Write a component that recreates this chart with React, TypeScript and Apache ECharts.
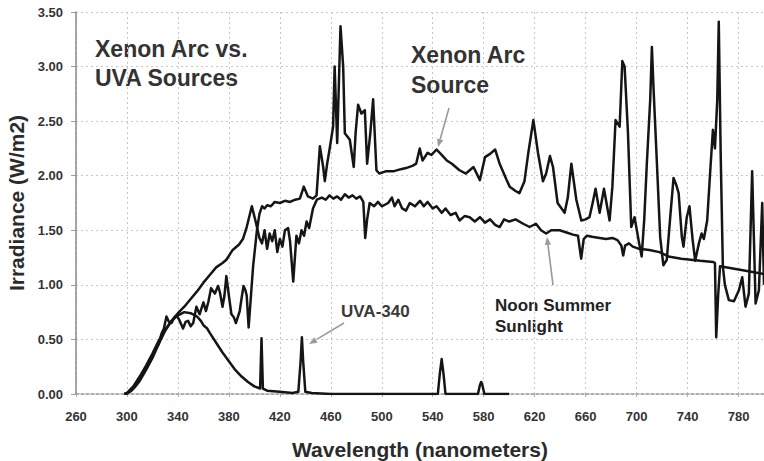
import React, { useEffect, useRef } from "react";
import * as echarts from "echarts";

// ---- Data (wavelength nm, irradiance W/m2) ----
const xenonArc: [number, number][] = [
  [298, 0], [300, 0.005], [303, 0.03], [306, 0.07], [310, 0.14], [314, 0.22], [318, 0.3], [320, 0.34],
  [322, 0.4], [325, 0.46], [327, 0.55], [329, 0.6], [331, 0.71], [333, 0.66], [335, 0.65], [337, 0.7],
  [339, 0.72], [341, 0.68], [344, 0.6], [346, 0.66], [348, 0.67], [350, 0.62], [352, 0.65], [354.5, 0.8],
  [357, 0.73], [360, 0.84], [362, 0.76], [364, 0.85], [366, 0.97], [369, 0.92], [371.5, 0.99], [373, 0.93],
  [375, 0.8], [376.5, 0.9], [378, 1.08], [380, 0.9], [382, 0.73], [384, 0.7], [385.5, 0.65], [388.5, 0.76],
  [390, 0.88], [391.5, 0.99], [393, 0.95], [394, 0.9], [395.5, 0.61], [397, 0.85], [399, 1.17], [402, 1.5],
  [404, 1.65], [406, 1.72], [408, 1.7], [410, 1.73], [413, 1.72], [416, 1.76], [420, 1.75], [424, 1.77],
  [428, 1.76], [432, 1.78], [435.7, 1.79], [438.8, 1.9], [442, 1.81], [446, 1.79], [448.8, 1.82],
  [451.4, 2.27], [454, 2.08], [455.3, 1.95], [457, 2.1], [459, 2.24], [461.8, 2.45], [463, 3.0], [465, 2.3],
  [467.6, 3.37], [469.7, 3.0], [471, 2.39], [473, 2.36], [474.9, 2.33], [478, 2.08], [479.5, 2.4],
  [481.4, 2.65], [484, 2.57], [486.7, 2.6], [488.5, 2.11], [491, 2.39], [493.2, 2.7], [495.8, 2.05],
  [498, 2.02], [503, 2.04], [509, 2.04], [515, 2.06], [519, 2.07], [524, 2.09], [527, 2.11], [529.8, 2.25],
  [532, 2.14], [536, 2.21], [539, 2.19], [543, 2.24], [547, 2.19], [551, 2.14], [555, 2.11], [561, 2.05],
  [566, 2.02], [572, 2.08], [577, 1.96], [581, 2.17], [585, 2.2], [589, 2.24], [592.5, 2.11], [598, 1.96],
  [600.4, 1.9], [605, 1.86], [608, 1.84], [612, 1.95], [615, 2.21], [619, 2.51], [622.6, 2.21],
  [626.5, 1.95], [629, 2.02], [632, 2.18], [634.4, 2.08], [638, 1.75], [643.5, 1.66], [646, 1.8],
  [648.8, 2.11], [652.7, 1.78], [656.6, 1.59], [660, 1.6], [663, 1.62], [665.5, 1.75], [667.8, 1.88],
  [671, 1.66], [674.4, 1.88], [678.8, 1.59], [681, 1.9], [683.5, 2.51], [686.7, 2.45], [688.8, 3.05],
  [690.6, 3.0], [693.2, 2.4], [695.8, 1.53], [698.4, 1.62], [702, 1.38], [704, 1.26], [706, 1.6], [708, 2.1],
  [710.7, 2.7], [712, 3.18], [713.3, 2.8], [716, 2.1], [718.5, 1.44], [721, 1.18], [723.7, 1.23],
  [726.4, 1.62], [729, 1.98], [731, 1.92], [733, 1.84], [735.5, 1.44], [736.8, 1.35], [739.4, 1.62],
  [741.5, 1.72], [744, 1.41], [746, 1.22], [748.9, 1.38], [751, 1.47], [752.8, 1.42], [755.4, 1.59],
  [758, 2.08], [759.9, 2.42], [761.5, 2.25], [763.3, 2.69], [764.5, 3.41], [766, 2.2], [767.7, 1.17],
  [769.3, 1.0], [772.4, 0.86], [776.4, 0.85], [780.3, 0.95], [782.9, 1.07], [785.5, 0.8], [788.1, 0.92],
  [790.7, 2.04], [793.4, 0.83], [796, 0.95], [798.6, 1.75], [800, 1.0],
];

const noonSunlight: [number, number][] = [
  [298, 0], [300, 0.005], [303, 0.025], [306, 0.06], [310, 0.12], [315, 0.22], [320, 0.33], [325, 0.46],
  [330, 0.58], [335, 0.67], [340, 0.74], [345, 0.8], [350, 0.87], [355, 0.94], [360, 1.02], [365, 1.09],
  [370, 1.16], [375, 1.2], [378, 1.23], [383, 1.32], [388, 1.37], [391, 1.42], [394, 1.53], [398, 1.72],
  [401, 1.58], [404, 1.43], [406, 1.38], [408, 1.5], [410, 1.33], [412, 1.47], [414, 1.4], [416, 1.5],
  [418, 1.3], [420, 1.42], [422, 1.35], [424, 1.5], [426.5, 1.52], [428, 1.4], [430.5, 1.03], [433, 1.45],
  [435, 1.38], [437, 1.5], [439, 1.45], [441, 1.58], [443, 1.52], [446, 1.7], [449, 1.78], [453, 1.8],
  [456, 1.78], [459, 1.82], [462, 1.79], [465, 1.81], [468, 1.78], [471, 1.83], [474, 1.8], [477, 1.82],
  [480, 1.79], [483, 1.81], [485.5, 1.76], [487, 1.43], [488.5, 1.6], [490.5, 1.75], [494, 1.72],
  [497, 1.76], [500, 1.72], [505, 1.75], [508, 1.8], [510, 1.72], [513, 1.78], [516, 1.7], [519, 1.68],
  [522, 1.75], [526, 1.72], [530, 1.77], [533, 1.72], [536, 1.76], [540, 1.7], [543, 1.72], [547, 1.66],
  [550, 1.7], [554, 1.64], [558, 1.66], [561, 1.59], [565, 1.63], [569, 1.62], [573, 1.58], [577, 1.62],
  [581, 1.57], [585, 1.6], [589, 1.55], [592.5, 1.53], [596, 1.6], [600, 1.58], [605, 1.6], [611, 1.56],
  [616, 1.53], [621, 1.56], [625, 1.5], [629, 1.47], [633, 1.5], [639.6, 1.5], [645, 1.48], [650, 1.46],
  [654, 1.45], [656.5, 1.24], [658.5, 1.42], [661, 1.45], [665, 1.44], [671, 1.43], [676, 1.42],
  [681, 1.43], [685, 1.41], [688, 1.36], [689.5, 1.27], [691, 1.36], [694, 1.38], [697, 1.35], [702, 1.33],
  [710, 1.32], [718, 1.3], [725, 1.26], [735, 1.24], [750, 1.22], [760, 1.21], [761.5, 1.2], [762.5, 0.52],
  [764, 0.9], [765.5, 1.17], [780, 1.14], [800, 1.1],
];

const uva340: [number, number][] = [
  [298, 0], [300, 0.01], [305, 0.07], [310, 0.16], [315, 0.26], [320, 0.37], [325, 0.49], [330, 0.59],
  [335, 0.67], [340, 0.72], [345, 0.75], [350, 0.74], [355, 0.71], [358, 0.67], [360, 0.63], [363, 0.6],
  [365, 0.56], [370, 0.47], [375, 0.38], [380, 0.3], [385, 0.22], [390, 0.16], [395, 0.11], [400, 0.07],
  [404.5, 0.05], [405.6, 0.51], [406.7, 0.05], [410, 0.03], [420, 0.02], [430, 0.01], [434.5, 0.02],
  [436.3, 0.3], [437.3, 0.52], [438.3, 0.3], [440, 0.02], [445, 0.01], [460, 0], [544, 0], [545.5, 0.18],
  [547, 0.32], [548.5, 0.18], [550, 0], [575.5, 0], [577, 0.08], [578, 0.11], [579, 0.08], [580.5, 0],
  [600, 0],
];

// ---- Axes ----
const X_MIN = 260;
const X_MAX = 800;
const X_STEP = 40;
const Y_MIN = 0;
const Y_MAX = 3.5;
const Y_STEP = 0.5;

// ---- Texts ----
const titleLines = ["Xenon Arc vs.", "UVA Sources"];
const xenonLines = ["Xenon Arc", "Source"];
const uvaText = "UVA-340";
const sunLines = ["Noon Summer", "Sunlight"];

const FONT = "'Liberation Sans', Arial, sans-serif";

function arrow(x1: number, y1: number, x2: number, y2: number) {
  const ang = Math.atan2(y2 - y1, x2 - x1);
  const len = 8;
  const hw = 3.2;
  const bx = x2 - len * Math.cos(ang);
  const by = y2 - len * Math.sin(ang);
  const px = -Math.sin(ang) * hw;
  const py = Math.cos(ang) * hw;
  return [
    {
      type: "line",
      shape: { x1, y1, x2: bx, y2: by },
      style: { stroke: "#9a9a9a", lineWidth: 1.6 },
      silent: true,
    },
    {
      type: "polygon",
      shape: { points: [[x2, y2], [bx + px, by + py], [bx - px, by - py]] },
      style: { fill: "#9a9a9a" },
      silent: true,
    },
  ];
}

function label(text: string, x: number, baseline: number, size: number, color: string) {
  return {
    type: "text",
    x,
    y: baseline - size * 0.846,
    silent: true,
    style: {
      text,
      fill: color,
      font: `bold ${size}px ${FONT}`,
      align: "left",
      verticalAlign: "top",
      lineHeight: size,
    },
  };
}

export default function App() {
  const ref = useRef<HTMLDivElement>(null);

  useEffect(() => {
    if (!ref.current) return;
    document.body.style.margin = "0";
    const chart = echarts.init(ref.current, undefined, { renderer: "svg" });
    const lineSeries = (name: string, data: [number, number][]) => ({
      name,
      type: "line",
      data,
      showSymbol: false,
      symbol: "none",
      lineStyle: { color: "#151515", width: 2.5, join: "round" },
      z: 3,
    });

    chart.setOption({
      animation: false,
      backgroundColor: "#ffffff",
      grid: {
        left: 76,
        right: 0,
        top: 12,
        bottom: 67,
        containLabel: false,
        outerBoundsMode: "none",
      },
      xAxis: {
        type: "value",
        min: X_MIN,
        max: X_MAX,
        interval: X_STEP,
        name: "Wavelength (nanometers)",
        nameLocation: "middle",
        nameGap: 45,
        nameTextStyle: { fontFamily: FONT, fontWeight: "bold", fontSize: 21, color: "#2b2b2b" },
        axisLine: { show: true, onZero: false, lineStyle: { color: "#9a9a9a", width: 1.5, type: [3, 2] } },
        axisTick: { show: true, length: 3, lineStyle: { color: "#b0b0b0" } },
        axisLabel: {
          showMaxLabel: false,
          margin: 16,
          fontFamily: FONT,
          fontWeight: "bold",
          fontSize: 13,
          color: "#333",
        },
        splitLine: { show: true, lineStyle: { color: "#c8c8c8", width: 1, type: [2, 3] } },
      },
      yAxis: {
        type: "value",
        min: Y_MIN,
        max: Y_MAX,
        interval: Y_STEP,
        name: "Irradiance (W/m2)",
        nameLocation: "middle",
        nameGap: 48,
        nameTextStyle: { fontFamily: FONT, fontWeight: "bold", fontSize: 21, color: "#2b2b2b" },
        axisLine: { show: true, lineStyle: { color: "#8a8a8a", width: 1.5 } },
        axisTick: { show: true, length: 5, lineStyle: { color: "#9a9a9a" } },
        axisLabel: {
          margin: 13,
          fontFamily: FONT,
          fontWeight: "bold",
          fontSize: 13,
          color: "#333",
          formatter: (v: number) => v.toFixed(2),
        },
        splitLine: { show: true, lineStyle: { color: "#c8c8c8", width: 1, type: [2, 3] } },
      },
      series: [
        lineSeries("Noon Summer Sunlight", noonSunlight),
        lineSeries("UVA-340", uva340),
        lineSeries("Xenon Arc Source", xenonArc),
      ],
      graphic: [
        label(titleLines[0], 95, 57, 23, "#333"),
        label(titleLines[1], 95, 86, 23, "#333"),
        label(xenonLines[0], 411, 63, 23, "#333"),
        label(xenonLines[1], 411, 93, 23, "#333"),
        label(uvaText, 341, 317, 17, "#3a3a3a"),
        label(sunLines[0], 495, 311, 17, "#222"),
        label(sunLines[1], 495, 332, 17, "#222"),
        ...arrow(449, 108, 438, 147),
        ...arrow(344, 323, 309, 344),
        ...arrow(553, 285, 547, 237),
      ],
    });
    return () => chart.dispose();
  }, []);

  return <div ref={ref} style={{ width: 764, height: 461 }} />;
}
